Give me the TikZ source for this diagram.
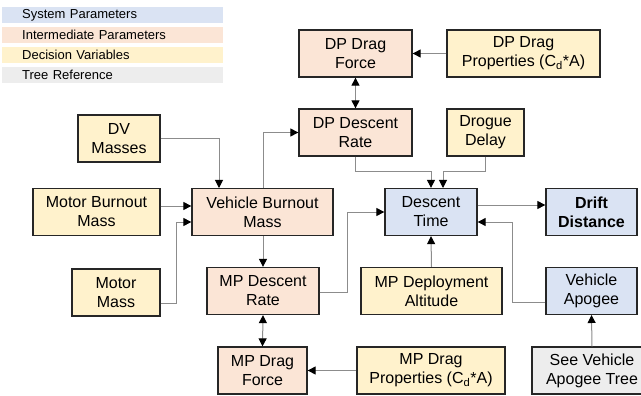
\documentclass[tikz,border=0pt]{standalone}
\usepackage{fontspec}
\setmainfont{Liberation Sans}
\usetikzlibrary{arrows.meta}

\definecolor{sysfill}{HTML}{DAE3F3}
\definecolor{intfill}{HTML}{FBE5D6}
\definecolor{decfill}{HTML}{FFF2CC}
\definecolor{treefill}{HTML}{EDEDED}
\definecolor{boxline}{HTML}{262626}
\definecolor{wire}{HTML}{8C8C8C}

\tikzset{
  block/.style={draw=boxline, line width=1.3pt, minimum height=47pt,
    align=center, inner sep=0pt, font=\fontsize{16}{19}\selectfont},
  sysbox/.style={block, fill=sysfill},
  intbox/.style={block, fill=intfill},
  decbox/.style={block, fill=decfill},
  treebox/.style={block, fill=treefill},
  legbar/.style={anchor=north west, minimum height=16pt,
    inner sep=0pt, text width=221pt, align=left, font=\fontsize{13}{15}\selectfont},
  tip/.tip={Triangle[length=8pt,width=8pt,color=black]},
  link/.style={draw=wire, line width=1pt, -tip},
  both/.style={draw=wire, line width=1pt, tip-tip},
}

\begin{document}
\begin{tikzpicture}[x=1pt,y=-1pt]
\useasboundingbox (0,0) rectangle (641,396);
\clip (0,0) rectangle (641,396);

% legend
\node[legbar, fill=sysfill]  (lsys)  at (2,7)  {\hspace*{20pt}System Parameters};
\node[legbar, fill=intfill]  (lint)  at (2,27) {\hspace*{20pt}Intermediate Parameters};
\node[legbar, fill=decfill]  (ldec)  at (2,47) {\hspace*{20pt}Decision Variables};
\node[legbar, fill=treefill] (ltree) at (2,67) {\hspace*{20pt}Tree Reference};

% blocks
\node[intbox, minimum width=113pt] (dpf)  at (355.5,53.5) {DP Drag\\Force};
\node[decbox, minimum width=153pt] (dpp)  at (523.5,53.5) {DP Drag\\Properties (C\textsubscript{d}*A)};
\node[intbox, minimum width=113pt] (dpr)  at (355.5,132.5) {DP Descent\\Rate};
\node[decbox, minimum width=77pt]  (drg)  at (485.5,132.5) {Drogue\\Delay};
\node[decbox, minimum width=82pt]  (dv)   at (119,138.5) {DV\\Masses};
\node[decbox, minimum width=127pt] (mbm)  at (96.5,212) {Motor Burnout\\Mass};
\node[intbox, minimum width=141pt] (vbm)  at (262.5,212) {Vehicle Burnout\\Mass};
\node[decbox, minimum width=88pt]  (mm)   at (116,292.5) {Motor\\Mass};
\node[intbox, minimum width=112pt] (mpr)  at (263,291) {MP Descent\\Rate};
\node[sysbox, minimum width=92pt]  (dt)   at (431,212) {Descent\\Time};
\node[sysbox, minimum width=91pt, font=\fontsize{16}{19}\selectfont\bfseries]
                                   (dd)   at (591.5,212) {Drift\\Distance};
\node[decbox, minimum width=141pt] (mpa)  at (431.5,291) {MP Deployment\\Altitude};
\node[sysbox, minimum width=91pt]  (va)   at (591.5,291) {Vehicle\\Apogee};
\node[intbox, minimum width=89pt]  (mpf)  at (262.5,370.5) {MP Drag\\Force};
\node[decbox, minimum width=148pt] (mpp)  at (431,370.5) {MP Drag\\Properties (C\textsubscript{d}*A)};
\node[treebox, minimum width=120pt] (see) at (592,370.5) {See Vehicle\\Apogee Tree};

% connectors
\draw[link] (dpp.west) -- (dpf.east);
\draw[both] (dpf.south) -- (dpr.north);
\draw[link] (dpr.south) |- (431,172) -- (dt.north);
\draw[link] (drg.south) |- (443,172) -- (443,188);
\draw[link] (dv.east) -| (219,188);
\draw[link] (263,188) |- (dpr.west);
\draw[link] (mbm.east |- 0,206) -- (vbm.west |- 0,206);
\draw[link] (mm.east |- 0,303) -| (176,222) -- (vbm.west |- 0,222);
\draw[link] (263,236) -- (mpr.north);
\draw[link] (mpr.east |- 0,292) -| (347,212) -- (dt.west |- 0,212);
\draw[link] (mpa.north) -- (dt.south);
\draw[link] (va.west |- 0,302) -| (512,222) -- (dt.east |- 0,222);
\draw[link] (dt.east |- 0,205) -- (dd.west |- 0,205);
\draw[link] (see.north) -- (va.north |- 0,315);
\draw[both] (mpr.south) -- (mpf.north);
\draw[link] (mpp.west) -- (mpf.east);
\end{tikzpicture}
\end{document}
